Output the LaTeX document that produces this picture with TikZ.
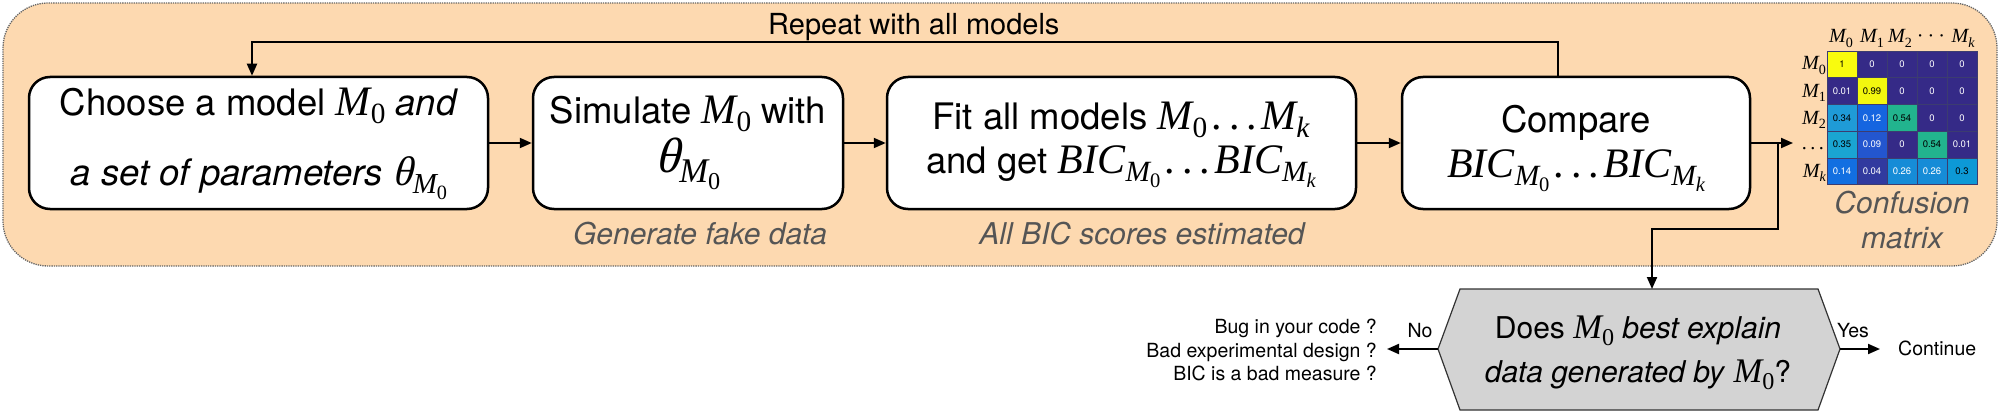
\documentclass[tikz,border=0pt]{standalone}
\usepackage{fontspec}
\usepackage{graphicx}
\setmainfont{TeX Gyre Heros}
\newfontfamily\tms{Liberation Serif}[Scale=1.15]
\newfontfamily\tmsi{Liberation Serif Italic}[Scale=1.15]
\newfontfamily\thf{Liberation Serif}[Scale=1.15, FakeSlant=0.25]
\usetikzlibrary{arrows.meta}

\definecolor{peach}{HTML}{FDD9B0}
\definecolor{bordergray}{HTML}{666666}
\definecolor{subgray}{HTML}{555555}
\definecolor{hexgray}{HTML}{D3D3D3}
\definecolor{pDark}{HTML}{352A87}
\definecolor{pDarkB}{HTML}{313A9F}
\definecolor{pYel}{HTML}{F9FB0E}
\definecolor{pYelB}{HTML}{F3F70F}
\definecolor{pLB}{HTML}{1F9BD7}
\definecolor{pLC}{HTML}{1AA5D2}
\definecolor{pB12}{HTML}{1565E0}
\definecolor{pB09}{HTML}{2356CF}
\definecolor{pB14}{HTML}{126FE1}
\definecolor{pGr}{HTML}{22B48E}
\definecolor{pB26}{HTML}{168CD7}
\definecolor{pB30}{HTML}{0D99D6}
\definecolor{gridc}{HTML}{3C3C70}

\newcommand\sbs[1]{\raisebox{-0.45ex}{\scalebox{0.7}{#1}}}
\newcommand\Mz{{\tmsi M\sbs{\tms 0}}}
\newcommand\Mo{{\tmsi M\sbs{\tms 1}}}
\newcommand\Mt{{\tmsi M\sbs{\tms 2}}}
\newcommand\Mkk{{\tmsi M\sbs{k}}}
\newcommand\thz{{\thf θ\tmsi\sbs{M\sbs{\tms 0}}}}
\newcommand\BICz{{\tmsi BIC\sbs{M\sbs{\tms 0}}}}
\newcommand\BICk{{\tmsi BIC\sbs{M\sbs{k}}}}
\newcommand\ldts{{\tms\kern0.1em.\kern0.17em.\kern0.17em.\kern0.1em}}
\newcommand\cdts{{\tms\kern0.1em·\kern0.2em·\kern0.2em·\kern0.1em}}
\newcommand\fs[1]{\fontsize{#1}{#1}\selectfont}

\begin{document}
\begin{tikzpicture}[x=1pt,y=-1pt,
  bgbox/.style={draw=bordergray, densely dotted, line width=1.3pt, fill=peach, rounded corners=45pt, inner sep=0pt},
  stepbox/.style={draw=black, line width=2.5pt, fill=white, rounded corners=21pt, inner sep=0pt},
  boxtxt/.style={anchor=base, inner sep=0pt, font=\fs{36.5}},
  subtxt/.style={anchor=base, inner sep=0pt, font=\fs{30}\itshape, text=subgray},
  smalltxt/.style={inner sep=0pt, font=\fs{19.5}},
  arr/.style={draw=black, line width=2pt, -{Triangle[length=12pt,width=10pt]}},
  cell/.style={draw=gridc, line width=0.4pt, minimum width=30pt, minimum height=26.7pt, inner sep=0pt, font=\fs{9.5}},
  lab/.style={inner sep=0pt, font=\fs{17.5}}
]
\useasboundingbox (0,0) rectangle (2000,412);

% background panel
\node[bgbox, minimum width=1994pt, minimum height=263pt] (bg) at (1000,134.5) {};

% step boxes
\node[stepbox, minimum width=459pt, minimum height=132pt] (b1) at (258.5,143) {};
\node[stepbox, minimum width=310pt, minimum height=132pt] (b2) at (688,143) {};
\node[stepbox, minimum width=469pt, minimum height=132pt] (b3) at (1121.5,143) {};
\node[stepbox, minimum width=348pt, minimum height=132pt] (b4) at (1576,143) {};

% box texts
\node[boxtxt] (t1a) at (259,115) {Choose a model \Mz\ \textit{and}};
\node[boxtxt, text height=26pt] (t1b) at (259,185) {\textit{a set of parameters} {\fs{36}\thz}};
\node[boxtxt] (t2a) at (688,123) {Simulate \Mz\ with};
\node[boxtxt, text height=33pt] (t2b) at (688,172) {{\fs{43}\thz}};
\node[boxtxt] (t3a) at (1121,129) {Fit all models \Mz\ldts\Mkk};
\node[boxtxt] (t3b) at (1121,173) {and get \BICz\ldts\BICk};
\node[boxtxt] (t4a) at (1576,132) {Compare};
\node[boxtxt] (t4b) at (1576,177) {\BICz\ldts\BICk};

% subtitles
\node[subtxt] (s2) at (700,244) {Generate fake data};
\node[subtxt] (s3) at (1142,244) {All BIC scores estimated};
\node[subtxt] (s4a) at (1902,213) {Confusion};
\node[subtxt] (s4b) at (1902,248) {matrix};

% arrows between boxes
\draw[arr] (b1.east) -- (b2.west);
\draw[arr] (b2.east) -- (b3.west);
\draw[arr] (b3.east) -- (b4.west);

% repeat loop
\coordinate (lpR) at (1558,42);
\coordinate (lpL) at (252,42);
\draw[arr] (b4.north -| lpR) -- (lpR) -- (lpL) -- (b1.north -| lpL);
\node[anchor=base west, inner sep=0pt, font=\fs{29}] (rep) at (768,35) {Repeat with all models};

% confusion matrix
\foreach \r/\c/\v/\f/\t in {
  0/0/1/pYel/black, 0/1/0/pDark/white, 0/2/0/pDark/white, 0/3/0/pDark/white, 0/4/0/pDark/white,
  1/0/0.01/pDark/white, 1/1/0.99/pYelB/black, 1/2/0/pDark/white, 1/3/0/pDark/white, 1/4/0/pDark/white,
  2/0/0.34/pLB/black, 2/1/0.12/pB12/white, 2/2/0.54/pGr/black, 2/3/0/pDark/white, 2/4/0/pDark/white,
  3/0/0.35/pLC/black, 3/1/0.09/pB09/white, 3/2/0/pDark/white, 3/3/0.54/pGr/black, 3/4/0.01/pDark/white,
  4/0/0.14/pB14/white, 4/1/0.04/pDarkB/white, 4/2/0.26/pB26/white, 4/3/0.26/pB26/white, 4/4/0.3/pB30/black}
{
  \node[cell, fill=\f, text=\t] (m-\r-\c) at ({1842+30*\c},{64.35+26.7*\r}) {\v};
}
% column labels
\node[lab, anchor=base] (c0) at (1841,43) {\Mz};
\node[lab, anchor=base] (c1) at (1872,43) {\Mo};
\node[lab, anchor=base] (c2) at (1900,43) {\Mt};
\node[lab, anchor=base] (c3) at (1931,43) {\cdts};
\node[lab, anchor=base] (c4) at (1963,43) {\Mkk};
% row labels
\node[lab, anchor=base east] (r0) at (1826,70) {\Mz};
\node[lab, anchor=base east] (r1) at (1826,97) {\Mo};
\node[lab, anchor=base east] (r2) at (1826,124) {\Mt};
\node[lab, anchor=base east] (r3) at (1826,149) {\ldts};
\node[lab, anchor=base east] (r4) at (1826,177) {\Mkk};

% arrow into matrix and branch to decision
\coordinate (mIn) at (1793,143);
\draw[arr] (b4.east) -- (mIn);
\coordinate (br) at (1778,143);
\coordinate (brA) at (1778,229);
\coordinate (brB) at (1652,229);
\coordinate (hexT) at (1652,289);

% decision hexagon
\coordinate (hL) at (1438,349);
\coordinate (hTL) at (1460,289);
\coordinate (hTR) at (1818,289);
\coordinate (hR) at (1840,349);
\coordinate (hBR) at (1818,410);
\coordinate (hBL) at (1460,410);
\draw[fill=hexgray, draw=black!80, line width=1.2pt] (hL) -- (hTL) -- (hTR) -- (hR) -- (hBR) -- (hBL) -- cycle;
\draw[arr] (br) -- (brA) -- (brB) -- (hexT);
\node[anchor=base, inner sep=0pt, font=\fs{30}] (h1) at (1638,338) {Does \Mz\ \textit{best explain}};
\node[anchor=base, inner sep=0pt, font=\fs{30}] (h2) at (1638,382) {\textit{data generated by} \Mz?};

% no / yes branches
\coordinate (noEnd) at (1387,349);
\coordinate (yesEnd) at (1880,349);
\draw[arr] (hL) -- (noEnd);
\draw[arr] (hR) -- (yesEnd);
\node[smalltxt, anchor=base] (no) at (1420,337) {No};
\node[smalltxt, anchor=base] (yes) at (1853,337) {Yes};
\node[smalltxt, anchor=base west] (cont) at (1898,355) {Continue};
\node[smalltxt, anchor=base east] (q1) at (1377,333) {Bug in your code ?};
\node[smalltxt, anchor=base east] (q2) at (1377,357) {Bad experimental design ?};
\node[smalltxt, anchor=base east] (q3) at (1377,380) {BIC is a bad measure ?};
\end{tikzpicture}
\end{document}
